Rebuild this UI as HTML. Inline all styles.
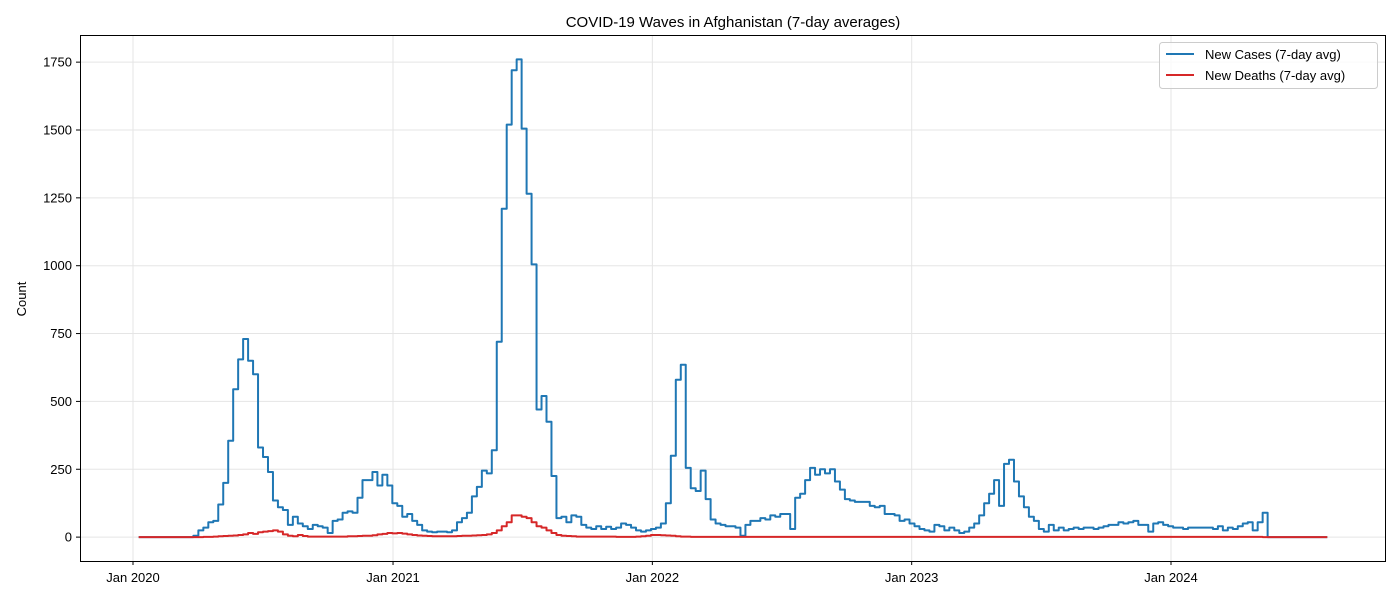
<!DOCTYPE html>
<html><head><meta charset="utf-8"><style>
body{margin:0;background:#fff;font-family:"Liberation Sans",sans-serif}
svg text{font-family:"Liberation Sans",sans-serif}
</style></head><body>
<svg id="chart" width="1400" height="600">
<rect x="0" y="0" width="1400" height="600" fill="#fff"/>
<g id="grid"></g><g id="series"></g>
<rect x="80.5" y="35.5" width="1305" height="526" fill="none" stroke="#000" stroke-width="1"/>
<g id="axes"></g>
<text x="733" y="27" text-anchor="middle" font-size="15">COVID-19 Waves in Afghanistan (7-day averages)</text>
<text x="0" y="0" transform="translate(26,299) rotate(-90)" text-anchor="middle" font-size="13">Count</text>
<g>
<rect x="1159.5" y="42.5" width="218" height="46" rx="3" fill="#fff" fill-opacity="0.8" stroke="#ccc"/>
<line x1="1166" y1="54" x2="1194" y2="54" stroke="#1f77b4" stroke-width="2"/>
<text x="1205" y="59" font-size="13">New Cases (7-day avg)</text>
<line x1="1166" y1="75" x2="1194" y2="75" stroke="#d62728" stroke-width="2"/>
<text x="1205" y="80" font-size="13">New Deaths (7-day avg)</text>
</g>
</svg>
<script>
const startDate = "2020-01-09";
const yTicks = [0,250,500,750,1000,1250,1500,1750];
const xTickDates = ["2020-01-01","2021-01-01","2022-01-01","2023-01-01","2024-01-01"];
const xTickLabels = ["Jan 2020","Jan 2021","Jan 2022","Jan 2023","Jan 2024"];
const cases = [0,0,0,0,0,0,0,0,0,0,0,
5,25,35,55,60,120,200,355,545,655,730,650,600,330,295,240,135,110,100,45,75,50,40,30,45,40,35,15,60,65,90,95,90,145,210,210,240,190,230,190,125,115,75,85,60,45,25,20,18,20,20,18,25,55,70,90,150,185,245,235,320,720,1210,1520,1720,1760,1505,1265,1005,470,520,425,225,70,75,55,80,75,45,35,30,40,30,38,30,35,50,45,35,25,20,25,30,35,50,125,300,580,635,255,180,170,245,140,65,50,45,40,40,35,5,45,60,60,70,65,80,75,85,85,30,145,160,210,255,230,250,235,250,205,175,140,135,130,130,130,115,110,115,85,85,80,60,65,50,40,30,25,20,45,40,25,35,25,15,20,35,50,80,125,160,210,115,270,285,205,150,110,75,60,30,20,45,25,35,25,30,35,30,35,35,30,35,40,45,45,55,50,55,60,45,45,20,50,55,45,40,35,35,30,35,35,35,35,35,30,40,25,35,30,40,50,55,25,55,90,
0,0,0,0,0,0,0,0,0,0,0,0];
const deaths = [0,0,0,0,0,0,0,0,0,0,0,
0,0,1,1,2,3,4,5,6,8,10,15,12,18,20,22,25,20,10,5,3,8,4,2,2,2,2,2,2,2,2,3,3,4,5,5,7,10,12,15,14,15,13,10,8,6,5,4,3,3,3,3,3,4,5,5,6,7,8,10,15,25,40,55,80,80,75,70,55,40,35,25,15,8,5,4,3,2,2,2,2,2,2,2,2,1,1,1,1,2,3,5,8,8,7,6,5,3,2,2,1,1,1,1,1,1,1,1,1,1,1,1,1,1,1,1,1,1,1,1,1,1,1,1,1,1,1,1,1,1,1,1,1,1,1,1,1,1,1,1,1,1,1,1,1,1,1,1,1,1,1,1,1,1,1,1,1,1,1,1,1,1,1,1,1,1,1,1,1,1,1,1,1,1,1,1,1,1,1,1,1,1,1,1,1,1,1,1,1,1,1,1,1,1,1,1,1,1,1,1,1,1,1,1,1,1,1,1,1,1,1,1,1,1,1,
0,0,0,0,0,0,0,0,0,0,0,0,0];

const NS="http://www.w3.org/2000/svg";
const d0=Date.parse("2020-01-01"), x0=133, pxPerDay=259.5/365.25;
const xOf=t=>x0+(t-d0)/86400000*pxPerDay;
const yMin=-88,yMax=1850,plotTop=35,plotBot=561;
const yOf=v=>plotBot-(v-yMin)/(yMax-yMin)*(plotBot-plotTop);
const grid=document.getElementById('grid'),axes=document.getElementById('axes'),series=document.getElementById('series');
function mk(tag,attrs,parent){const e=document.createElementNS(NS,tag);for(const k in attrs)e.setAttribute(k,attrs[k]);parent.appendChild(e);return e;}
yTicks.forEach(v=>{const y=yOf(v);
 const g=mk('line',{x1:80,x2:1385,y1:y,y2:y,stroke:'#e5e5e5','stroke-width':1},grid);
 
 
 mk('line',{x1:76,x2:80,y1:y,y2:y,stroke:'#000'},axes);
 const t=mk('text',{x:72,y:y+4.5,'text-anchor':'end','font-size':13},axes);t.textContent=v;
 
 
});
xTickDates.forEach((d,i)=>{const x=xOf(Date.parse(d));
 const g=mk('line',{x1:x,x2:x,y1:35,y2:561,stroke:'#e5e5e5','stroke-width':1},grid);
 
 
 mk('line',{x1:x,x2:x,y1:561,y2:565,stroke:'#000'},axes);
 const t=mk('text',{x:x,y:582,'text-anchor':'middle','font-size':13},axes);t.textContent=xTickLabels[i];
 
 
});
function stepPath(vals){const s=Date.parse(startDate);let p='';
 vals.forEach((v,i)=>{const xa=xOf(s+i*7*86400000),xb=xOf(s+(i+1)*7*86400000),y=yOf(v);
  p+=(i===0?`M${xa},${y}`:`V${y}`)+`H${xb}`;});return p;}
const pc=mk('path',{d:stepPath(cases),fill:'none',stroke:'#1f77b4','stroke-width':2,'stroke-linejoin':'round'},series);


const pd=mk('path',{d:stepPath(deaths),fill:'none',stroke:'#d62728','stroke-width':2,'stroke-linejoin':'round'},series);


</script>
</body></html>
